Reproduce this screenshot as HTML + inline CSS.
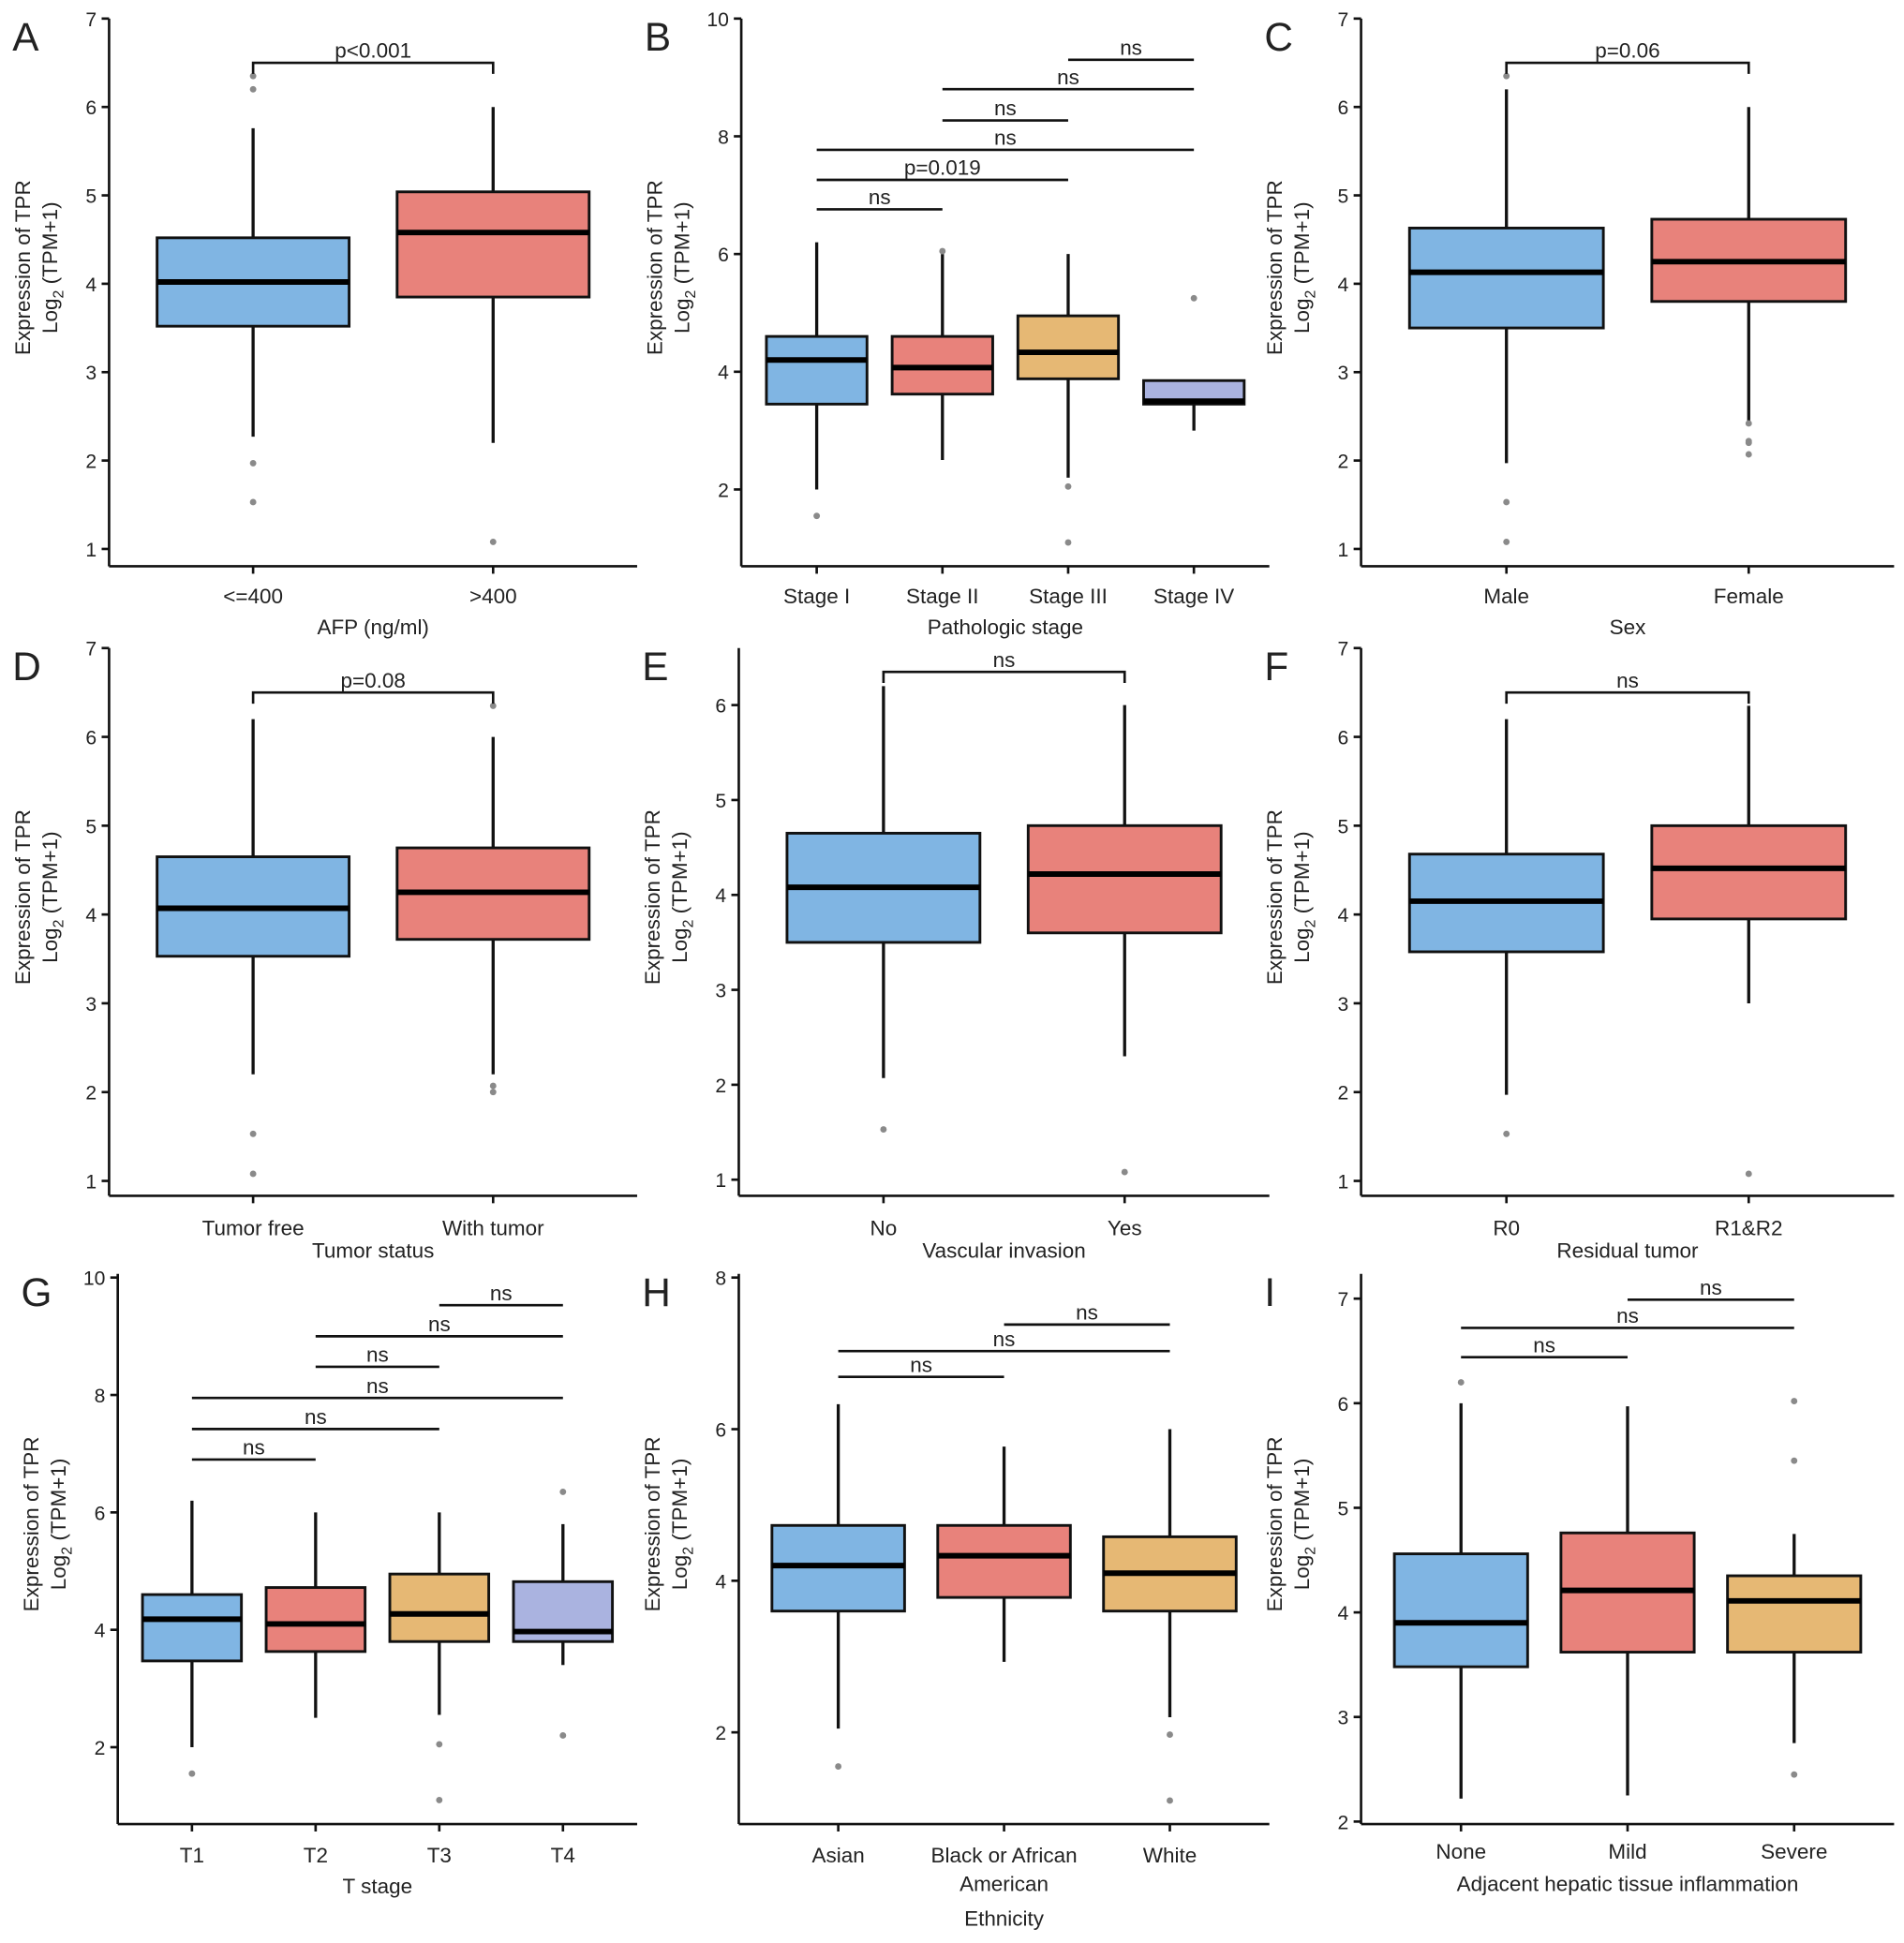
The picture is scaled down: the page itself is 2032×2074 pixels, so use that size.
<!DOCTYPE html>
<html><head><meta charset="utf-8"><style>
html,body{margin:0;padding:0;background:#fff}
svg{display:block}
text{font-family:"Liberation Sans",Arial,sans-serif;fill:#222}
</style></head><body>
<svg id="fig" width="2032" height="2074" viewBox="0 0 1536 1568" preserveAspectRatio="none" xmlns="http://www.w3.org/2000/svg"></svg>
<script>
// ---- data arrays ----
const catsA=["<=400",">400"];
const statsA=[[2.27,3.52,4.02,4.52,5.76],[2.2,3.85,4.58,5.04,6.0]];
const outA=[[6.2,6.35,1.97,1.53],[1.08]];
const brA=[[0,1,6.5,"p<0.001"]];

const catsB=["Stage I","Stage II","Stage III","Stage IV"];
const statsB=[[2.0,3.45,4.2,4.6,6.2],[2.5,3.62,4.07,4.6,6.0],[2.2,3.88,4.33,4.95,6.0],[3.0,3.45,3.5,3.85,3.85]];
const outB=[[1.55],[6.05],[2.05,1.1],[5.25]];
const brB=[[0,1,6.76,"ns"],[0,2,7.26,"p=0.019"],[0,3,7.77,"ns"],[1,2,8.27,"ns"],[1,3,8.8,"ns"],[2,3,9.3,"ns"]];

const catsC=["Male","Female"];
const statsC=[[1.97,3.5,4.13,4.63,6.2],[2.45,3.8,4.25,4.73,6.0]];
const outC=[[6.35,1.53,1.08],[2.42,2.22,2.2,2.07]];
const brC=[[0,1,6.5,"p=0.06"]];

const catsD=["Tumor free","With tumor"];
const statsD=[[2.2,3.53,4.07,4.65,6.2],[2.2,3.72,4.25,4.75,6.0]];
const outD=[[1.53,1.08],[6.35,2.07,2.0]];
const brD=[[0,1,6.5,"p=0.08"]];

const catsE=["No","Yes"];
const statsE=[[2.07,3.5,4.08,4.65,6.2],[2.3,3.6,4.22,4.73,6.0]];
const outE=[[1.53],[1.08]];
const brE=[[0,1,6.35,"ns"]];

const catsF=["R0","R1&R2"];
const statsF=[[1.97,3.58,4.15,4.68,6.2],[3.0,3.95,4.52,5.0,6.35]];
const outF=[[1.53],[1.08]];
const brF=[[0,1,6.5,"ns"]];

const catsG=["T1","T2","T3","T4"];
const statsG=[[2.0,3.47,4.18,4.6,6.2],[2.5,3.63,4.1,4.72,6.0],[2.55,3.8,4.27,4.95,6.0],[3.4,3.8,3.97,4.82,5.8]];
const outG=[[1.55],[],[2.05,1.1],[6.35,2.2]];
const brG=[[0,1,6.9,"ns"],[0,2,7.42,"ns"],[0,3,7.95,"ns"],[1,2,8.48,"ns"],[1,3,9.0,"ns"],[2,3,9.53,"ns"]];

const catsH=["Asian","Black or African|American","White"];
const statsH=[[2.05,3.6,4.2,4.73,6.33],[2.93,3.78,4.33,4.73,5.77],[2.2,3.6,4.1,4.58,6.0]];
const outH=[[1.55],[],[1.97,1.1]];
const brH=[[0,1,6.69,"ns"],[0,2,7.03,"ns"],[1,2,7.38,"ns"]];

const catsI=["None","Mild","Severe"];
const statsI=[[2.22,3.48,3.9,4.56,6.0],[2.25,3.62,4.21,4.76,5.97],[2.75,3.62,4.11,4.35,4.75]];
const outI=[[6.2],[],[6.02,5.45,2.45]];
const brI=[[0,1,6.44,"ns"],[0,2,6.72,"ns"],[1,2,6.99,"ns"]];

const ticks17=[1,2,3,4,5,6,7], ticks16=[1,2,3,4,5,6], ticks2_10=[2,4,6,8,10], ticks2_8=[2,4,6,8], ticks2_7=[2,3,4,5,6,7];

const BLUE="#80b5e3",RED="#e8827b",ORANGE="#e6b874",PURPLE="#aab3e0";
const NS="http://www.w3.org/2000/svg";
const svg=document.getElementById('fig');
function mk(tag,attrs,parent){const e=document.createElementNS(NS,tag);for(const k in attrs)e.setAttribute(k,attrs[k]);(parent||svg).appendChild(e);return e;}

const panels=[
 {L:"A",ax:88,xr:514,top:15,bot:457,lo:[1,443],hi:[7,15],ticks:ticks17,cats:catsA,stats:statsA,outs:outA,br:brA,cap:true,cols:[BLUE,RED],title:"AFP (ng/ml)",ly:487,ty:512},
 {L:"B",ax:598,xr:1024,top:15,bot:457,lo:[2,395],hi:[10,15],ticks:ticks2_10,cats:catsB,stats:statsB,outs:outB,br:brB,cap:false,cols:[BLUE,RED,ORANGE,PURPLE],title:"Pathologic stage",ly:487,ty:512},
 {L:"C",ax:1098,xr:1528,top:15,bot:457,lo:[1,443],hi:[7,15],ticks:ticks17,cats:catsC,stats:statsC,outs:outC,br:brC,cap:true,cols:[BLUE,RED],title:"Sex",ly:487,ty:512},
 {L:"D",ax:88,xr:514,top:523,bot:965,lo:[1,953],hi:[7,523],ticks:ticks17,cats:catsD,stats:statsD,outs:outD,br:brD,cap:true,cols:[BLUE,RED],title:"Tumor status",ly:997,ty:1015},
 {L:"E",ax:596,xr:1024,top:523,bot:965,lo:[1,952],hi:[6,569],ticks:ticks16,cats:catsE,stats:statsE,outs:outE,br:brE,cap:true,cols:[BLUE,RED],title:"Vascular invasion",ly:997,ty:1015},
 {L:"F",ax:1098,xr:1528,top:523,bot:965,lo:[1,953],hi:[7,523],ticks:ticks17,cats:catsF,stats:statsF,outs:outF,br:brF,cap:true,cols:[BLUE,RED],title:"Residual tumor",ly:997,ty:1015},
 {L:"G",ax:95,xr:514,top:1028,bot:1472,lo:[2,1410],hi:[10,1031],ticks:ticks2_10,cats:catsG,stats:statsG,outs:outG,br:brG,cap:false,cols:[BLUE,RED,ORANGE,PURPLE],title:"T stage",ly:1503,ty:1528},
 {L:"H",ax:596,xr:1024,top:1028,bot:1472,lo:[2,1398],hi:[8,1031],ticks:ticks2_8,cats:catsH,stats:statsH,outs:outH,br:brH,cap:false,cols:[BLUE,RED,ORANGE],title:"Ethnicity",ly:1503,ty:1554},
 {L:"I",ax:1098,xr:1528,top:1028,bot:1472,lo:[2,1470],hi:[7,1048],ticks:ticks2_7,cats:catsI,stats:statsI,outs:outI,br:brI,cap:false,cols:[BLUE,RED,ORANGE],title:"Adjacent hepatic tissue inflammation",ly:1500,ty:1526}
];

panels.forEach(p=>{
  const g=mk('g',{});
  
  
  const y=v=>p.lo[1]+(v-p.lo[0])*(p.hi[1]-p.lo[1])/(p.hi[0]-p.lo[0]);
  const n=p.cats.length, unit=(p.xr-p.ax)/(n-1+1.2);
  const x=i=>p.ax+unit*(0.6+i);
  const bw=unit*0.8;
  const lab=mk('text',{x:p.ax-78,y:p.top+26,'font-size':32},g);lab.textContent=p.L;
  
  // axes
  const ya=mk('line',{x1:p.ax,y1:p.top,x2:p.ax,y2:p.bot,stroke:'#111','stroke-width':2},g);
  
  const xa=mk('line',{x1:p.ax,y1:p.bot,x2:p.xr,y2:p.bot,stroke:'#111','stroke-width':2},g);
  
  p.ticks.forEach(t=>{
    mk('line',{x1:p.ax-6,y1:y(t),x2:p.ax,y2:y(t),stroke:'#111','stroke-width':2},g);
    const tt=mk('text',{x:p.ax-10,y:y(t)+6,'font-size':16,'text-anchor':'end'},g);tt.textContent=t;
    
  });
  // y title
  const cy=(p.top+p.bot)/2-20;
  const yt=mk('text',{transform:`translate(${p.ax-64},${cy}) rotate(-90)`,'font-size':17,'text-anchor':'middle'},g);
  yt.textContent='Expression of TPR';
  
  const yt2=mk('text',{transform:`translate(${p.ax-42},${cy}) rotate(-90)`,'font-size':17,'text-anchor':'middle'},g);
  yt2.innerHTML='Log<tspan font-size="12" dy="5">2</tspan><tspan dy="-5"> (TPM+1)</tspan>';
  
  // boxes
  p.cats.forEach((c,i)=>{
    const s=p.stats[i], cx=x(i);
    const bg=mk('g',{},g);
    
    
    mk('line',{x1:cx,y1:y(s[0]),x2:cx,y2:y(s[1]),stroke:'#111','stroke-width':2.5},bg);
    mk('line',{x1:cx,y1:y(s[3]),x2:cx,y2:y(s[4]),stroke:'#111','stroke-width':2.5},bg);
    mk('rect',{x:cx-bw/2,y:y(s[3]),width:bw,height:y(s[1])-y(s[3]),fill:p.cols[i],stroke:'#111','stroke-width':2.2},bg);
    mk('line',{x1:cx-bw/2,y1:y(s[2]),x2:cx+bw/2,y2:y(s[2]),stroke:'#000','stroke-width':4.5},bg);
    p.outs[i].forEach(o=>{
      const d=mk('circle',{cx:cx,cy:y(o),r:2.6,fill:'#8a8a8a'},bg);
      
    });
    mk('line',{x1:cx,y1:p.bot,x2:cx,y2:p.bot+6,stroke:'#111','stroke-width':2},g);
    const lines=c.split('|');
    lines.forEach((ln,k)=>{
      const xt=mk('text',{x:cx,y:p.ly+k*23,'font-size':17,'text-anchor':'middle'},g);xt.textContent=ln;
      
    });
  });
  const xtl=mk('text',{x:(p.ax+p.xr)/2,y:p.ty,'font-size':17,'text-anchor':'middle'},g);xtl.textContent=p.title;
  
  // brackets
  p.br.forEach(b=>{
    const bg=mk('g',{},g);
    
    
    const x1=x(b[0]),x2=x(b[1]),yy=y(b[2]);
    if(p.cap){
      mk('path',{d:`M${x1},${yy+9}V${yy}H${x2}V${yy+9}`,fill:'none',stroke:'#111','stroke-width':2},bg);
    } else {
      mk('line',{x1:x1,y1:yy,x2:x2,y2:yy,stroke:'#111','stroke-width':2},bg);
    }
    const t=mk('text',{x:(x1+x2)/2,y:yy-4,'font-size':17,'text-anchor':'middle'},bg);t.textContent=b[3];
  });
});
</script>
</body></html>
